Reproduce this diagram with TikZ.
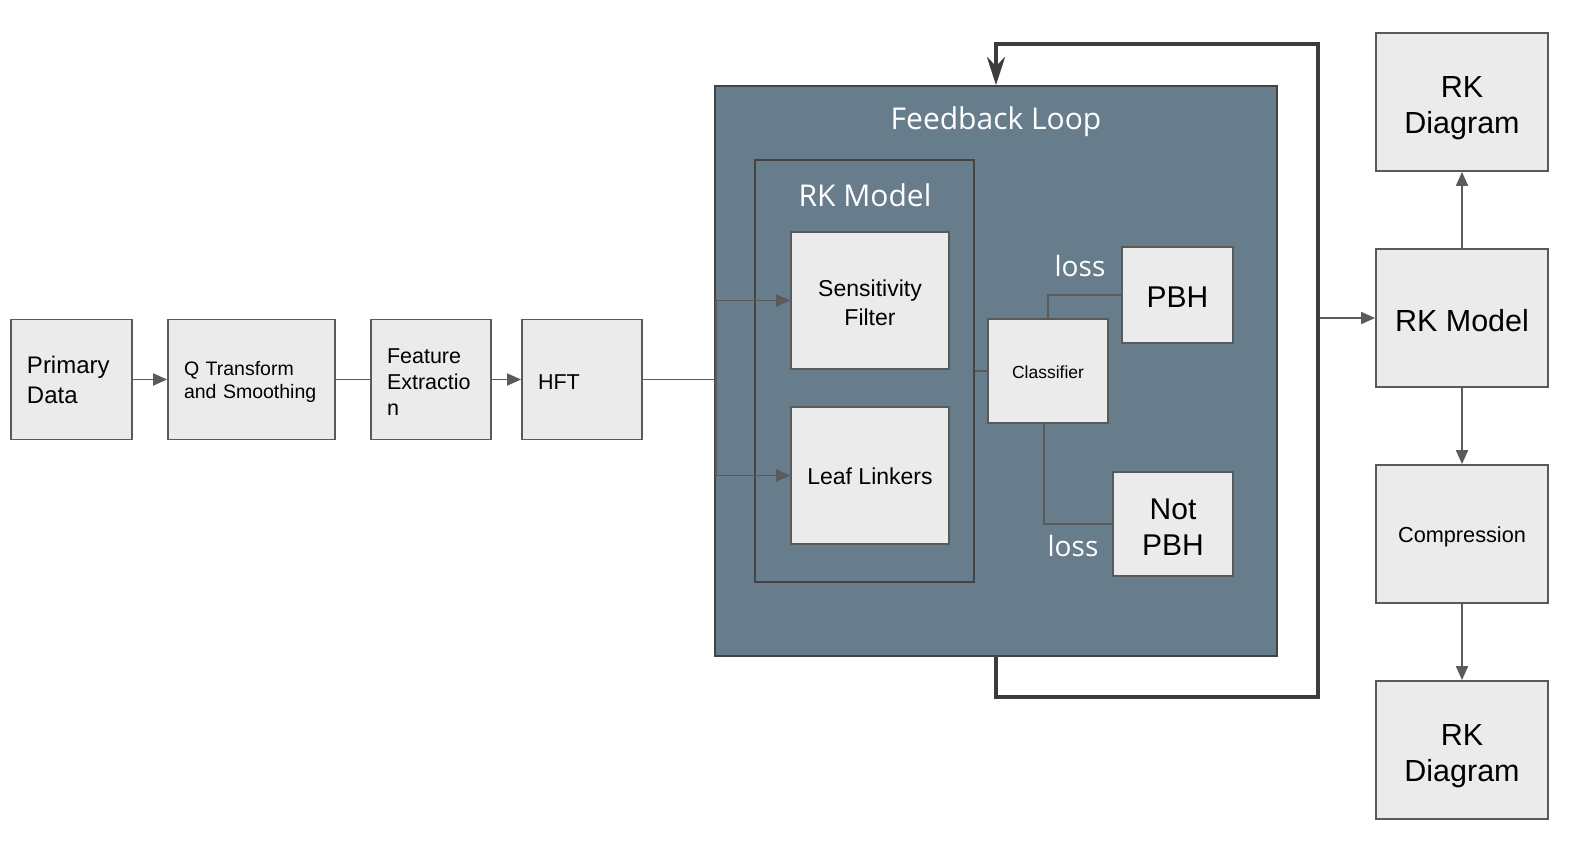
\documentclass[tikz,border=0pt]{standalone}
\usepackage{fontspec}
\setmainfont{Liberation Sans}
\newfontfamily\osans{Open Sans}
\usetikzlibrary{arrows.meta,positioning}
\definecolor{boxfill}{HTML}{EBEBEB}
\definecolor{boxline}{HTML}{5A5A5A}
\definecolor{fbfill}{HTML}{687D8C}
\definecolor{fbline}{HTML}{444444}
\definecolor{loopline}{HTML}{3C3C3C}
\newcommand{\fsz}[1]{\fontsize{#1}{#1}\selectfont}
\newcommand{\st}[1]{\rule{0pt}{#1}}
\tikzset{
  blk/.style={draw=boxline, fill=boxfill, line width=1.8pt, inner sep=0pt, align=center, font=\fontsize{23}{29}\selectfont},
  lblk/.style={blk, align=left, inner xsep=16pt},
  conn/.style={draw=boxline, line width=1.8pt},
  arr/.style={conn, -{Triangle[length=14pt,width=12pt]}},
  looparrow/.style={draw=loopline, line width=4pt, -{Stealth[length=28pt,width=18pt,inset=9pt]}},
  whitelbl/.style={text=white, font=\osans\fsz{28}, inner sep=0pt}
}
\begin{document}
\begin{tikzpicture}[x=1pt,y=-1pt]
\useasboundingbox (0,0) rectangle (1569,859);
% left pipeline
\node[lblk, minimum width=121pt, minimum height=120pt, text width=89pt, font=\fontsize{24}{30}\selectfont] (prim) at (71.5,379.5) {Primary\\Data};
\node[lblk, minimum width=167pt, minimum height=120pt, text width=135pt, font=\fontsize{19.5}{23}\selectfont] (qt) at (251.5,379.5) {\st{18.5pt}Q Transform\\and Smoothing};
\node[lblk, minimum width=120pt, minimum height=120pt, text width=88pt, font=\fontsize{21.5}{26}\selectfont] (feat) at (431,379.5) {\st{19.7pt}Feature\\Extractio\\n};
\node[lblk, minimum width=120pt, minimum height=120pt, text width=88pt, font=\fontsize{21.5}{26}\selectfont] (hft) at (582,379.5) {\st{19.7pt}HFT};
% feedback loop box
\node[draw=fbline, fill=fbfill, line width=1.8pt, minimum width=562pt, minimum height=570pt, inner sep=0pt] (fb) at (996,371) {};
\node[whitelbl, font=\osans\fsz{30}] (fbt) at (996,122) {Feedback Loop};
\node[draw=fbline, line width=1.8pt, minimum width=219pt, minimum height=422pt, inner sep=0pt] (rkin) at (864.5,371) {};
\node[whitelbl, font=\osans\fsz{30}] (rkint) at (865,195) {RK Model};
\node[blk, minimum width=158pt, minimum height=137pt] (sens) at (870,300.5) {\st{21pt}Sensitivity\\Filter};
\node[blk, minimum width=158pt, minimum height=137pt] (leaf) at (870,475.5) {\st{19pt}Leaf Linkers};
\node[blk, minimum width=120pt, minimum height=104pt, font=\fsz{17.5}] (cls) at (1048,371) {\st{14.8pt}Classifier};
\node[blk, minimum width=111pt, minimum height=96pt, font=\fsz{30}] (pbh) at (1177.5,295) {\st{24pt}PBH};
\node[blk, minimum width=120pt, minimum height=104pt, font=\fontsize{30}{36}\selectfont] (npbh) at (1173,524) {\st{26pt}Not\\PBH};
\node[whitelbl] (loss1) at (1080,266) {loss};
\node[whitelbl] (loss2) at (1073,546) {loss};
% right column
\node[blk, minimum width=172pt, minimum height=138pt, font=\fontsize{30.5}{36}\selectfont] (rkd1) at (1462,102) {\st{32.5pt}RK\\Diagram};
\node[blk, minimum width=172pt, minimum height=138pt, font=\fsz{30.5}] (rkm) at (1462,318) {\st{26.3pt}RK Model};
\node[blk, minimum width=172pt, minimum height=138pt, font=\fsz{21.7}] (comp) at (1462,534) {\st{22pt}Compression};
\node[blk, minimum width=172pt, minimum height=138pt, font=\fontsize{30.5}{36}\selectfont] (rkd2) at (1462,750) {\st{32.5pt}RK\\Diagram};
% connectors left
\draw[arr] (prim.east) -- (qt.west);
\draw[conn] (qt.east) -- (feat.west);
\draw[arr] (feat.east) -- (hft.west);
\coordinate (split) at (716,379.5);
\draw[conn] (hft.east) -- (split);
\draw[arr] (split) |- (sens.west);
\draw[arr] (split) |- (leaf.west);
\draw[conn] (rkin.east |- cls.west) -- (cls.west);
\draw[conn] (cls.north) |- (pbh.west);
\draw[conn] ([xshift=-4pt]cls.south) |- (npbh.west);
% feedback loop
\coordinate (c1) at (996,697);
\coordinate (c2) at (1318,697);
\coordinate (c3) at (1318,44);
\coordinate (c4) at (996,44);
\draw[looparrow, line join=miter] (fb.south) -- (c1) -- (c2) -- (c3) -- (c4) -- (fb.north);
\coordinate (tap) at (1320,318);
\draw[arr] (tap) -- (rkm.west);
% right column arrows
\draw[arr] (rkm.north) -- (rkd1.south);
\draw[arr] (rkm.south) -- (comp.north);
\draw[arr] (comp.south) -- (rkd2.north);
\end{tikzpicture}
\end{document}
